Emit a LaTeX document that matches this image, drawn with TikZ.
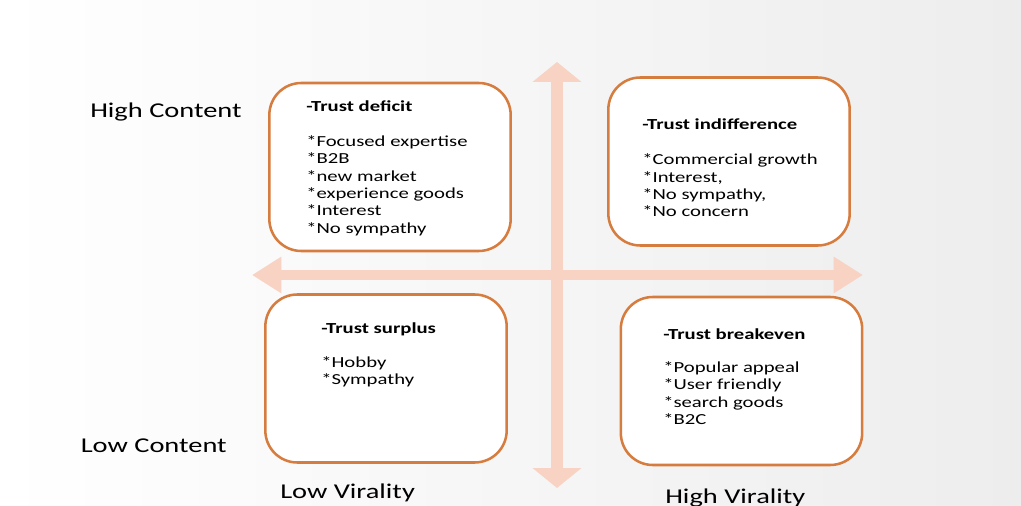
\documentclass[tikz,border=0pt]{standalone}
\usepackage{fontspec}
\setmainfont{Carlito}[FakeStretch=1.35]
\usepackage{tikz}
\usetikzlibrary{arrows.meta,backgrounds}
\definecolor{axpink}{RGB}{248,211,196}
\definecolor{boxorange}{RGB}{214,124,62}
\definecolor{bggray}{RGB}{237,237,237}

\begin{document}
\begin{tikzpicture}[x=0.75pt, y=-0.75pt]
\tikzstyle{quad}=[draw=boxorange, line width=1.9pt, rounded corners=24pt,
                        fill=white, minimum width=181pt, minimum height=126pt, inner sep=0pt]
\tikzstyle{hd}=[anchor=base west, inner sep=0pt, font=\fontsize{11.5}{13}\selectfont\bfseries]
\tikzstyle{itm}=[anchor=base west, inner sep=0pt, font=\fontsize{11.5}{13}\selectfont]
\tikzstyle{axlbl}=[anchor=base west, inner sep=0pt, font=\fontsize{15.8}{18}\selectfont]
\tikzstyle{axis}=[draw=axpink, line width=8pt]
\useasboundingbox (0,0) rectangle (1021,506);
\shade[left color=white, right color=bggray] (0,0) rectangle (1021,506);
%axes
\coordinate (W) at (252,275);
\coordinate (E) at (863,275);
\coordinate (N) at (557,62);
\coordinate (S) at (557,488);
\draw[axis, {Triangle[width=26pt,length=22pt]}-{Triangle[width=26pt,length=22pt]}] (W) -- (E);
\draw[axis, line width=9.4pt, {Triangle[width=36pt,length=15pt]}-{Triangle[width=36pt,length=15pt]}] (N) -- (S);
%quadrants
\node[quad] (deficit) at (390,167) {};
\node[quad] (indiff) at (729,161.5) {};
\node[quad] (surplus) at (386,378.5) {};
\node[quad] (breakeven) at (741.5,381) {};
\node[hd] (deficit-h) at (306,112) {-Trust deficit};
\foreach \t [count=\n from 0] in {*Focused expertise,*B2B,*new market,*experience goods,*Interest,*No sympathy}
  {\node[itm] (deficit-\n) at (306,{146.7+17.3*\n}) {\t};}
\node[hd] (indiff-h) at (642,130) {-Trust indifference};
\foreach \t [count=\n from 0] in {*Commercial growth,{*Interest,},{*No sympathy,},*No concern}
  {\node[itm] (indiff-\n) at (642,{165+17.1*\n}) {\t};}
\node[hd] (surplus-h) at (321,333) {-Trust surplus};
\foreach \t [count=\n from 0] in {*Hobby,*Sympathy}
  {\node[itm] (surplus-\n) at (321,{367+17.3*\n}) {\t};}
\node[hd] (breakeven-h) at (663,339) {-Trust breakeven};
\foreach \t [count=\n from 0] in {*Popular appeal,*User friendly,*search goods,*B2C}
  {\node[itm] (breakeven-\n) at (663,{372.5+17.3*\n}) {\t};}
%axis labels
\node[axlbl] (hicont) at (90,117.5) {High Content};
\node[axlbl] (locont) at (80.5,452) {Low Content};
\node[axlbl] (lovir) at (280,498) {Low Virality};
\node[axlbl] (hivir) at (665,503) {High Virality};
\end{tikzpicture}
\end{document}
